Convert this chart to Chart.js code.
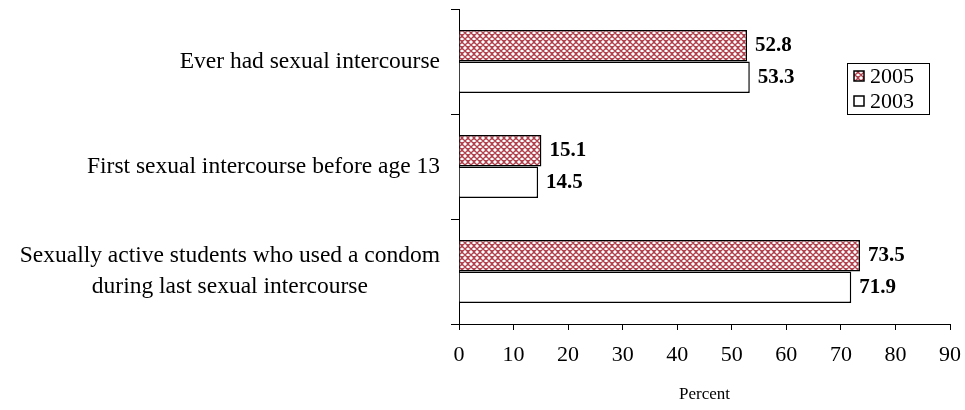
<!DOCTYPE html>
<html>
<head>
<meta charset="utf-8">
<script src="https://cdn.jsdelivr.net/npm/chart.js@4"></script>
<style>
  html, body { margin: 0; padding: 0; background: #fff; }
  #wrap { width: 965px; height: 410px; position: relative; }
</style>
</head>
<body>
<div id="wrap"><canvas id="chart"></canvas></div>
<script>
const categories = [
    ['Ever had sexual intercourse'],
    ['First sexual intercourse before age 13'],
    ['Sexually active students who used a condom', 'during last sexual intercourse']
];
const years = ['2005', '2003'];
const values2005 = [52.8, 15.1, 73.5];
const values2003 = [53.3, 14.5, 71.9];
const xTicks = [0, 10, 20, 30, 40, 50, 60, 70, 80, 90];

const SERIF = '"Liberation Serif", "Times New Roman", serif';

// red cross-hatch used for the 2005 bars
function makeHatch() {
    const c = document.createElement('canvas');
    c.width = 6; c.height = 6;
    const g = c.getContext('2d');
    g.fillStyle = '#ffffff';
    g.fillRect(0, 0, 6, 6);
    g.strokeStyle = '#b0404c';
    g.lineWidth = 1.3;
    g.beginPath();
    g.moveTo(-1, -1); g.lineTo(7, 7);
    g.moveTo(7, -1); g.lineTo(-1, 7);
    g.moveTo(2, -1); g.lineTo(-1, 2);
    g.moveTo(4, -1); g.lineTo(7, 2);
    g.moveTo(-1, 4); g.lineTo(2, 7);
    g.moveTo(7, 4); g.lineTo(4, 7);
    g.stroke();
    return g.createPattern(c, 'repeat');
}
const hatch = makeHatch();

// category names to the left of the axis, each line centred on the block
const categoryLabels = {
    id: 'categoryLabels',
    afterDraw(chart) {
        const ctx = chart.ctx;
        const y = chart.scales.y;
        ctx.save();
        ctx.font = '23.5px ' + SERIF;
        ctx.fillStyle = '#000';
        ctx.textBaseline = 'middle';
        ctx.textAlign = 'center';
        const right = y.right - 19;
        categories.forEach((lines, i) => {
            const cy = y.getPixelForTick(i);
            const maxW = Math.max(...lines.map(l => ctx.measureText(l).width));
            const lh = 31;
            lines.forEach((l, k) => {
                const ly = cy + (k - (lines.length - 1) / 2) * lh;
                ctx.fillText(l, right - maxW / 2, ly);
            });
        });
        ctx.restore();
    }
};

// bold value labels at the end of each bar
const valueLabels = {
    id: 'valueLabels',
    afterDatasetsDraw(chart) {
        const ctx = chart.ctx;
        ctx.save();
        ctx.font = 'bold 21px ' + SERIF;
        ctx.fillStyle = '#000';
        ctx.textBaseline = 'middle';
        ctx.textAlign = 'left';
        chart.data.datasets.forEach((ds, di) => {
            chart.getDatasetMeta(di).data.forEach((bar, i) => {
                ctx.fillText(ds.data[i].toFixed(1), bar.x + 8, bar.y);
            });
        });
        ctx.restore();
    }
};

// boxed legend on the right side
const boxLegend = {
    id: 'boxLegend',
    afterDraw(chart) {
        const ctx = chart.ctx;
        const left = 847, top = 63, w = 82, h = 51;
        ctx.save();
        ctx.strokeStyle = '#000';
        ctx.lineWidth = 1;
        ctx.strokeRect(left + 0.5, top + 0.5, w, h);
        ctx.font = '22px ' + SERIF;
        ctx.textBaseline = 'middle';
        ctx.textAlign = 'left';
        chart.data.datasets.forEach((ds, i) => {
            const cy = top + 13 + i * 25;
            ctx.fillStyle = ds.backgroundColor;
            ctx.fillRect(left + 7, cy - 5, 10, 10);
            ctx.lineWidth = 1.5;
            ctx.strokeRect(left + 7, cy - 5, 10, 10);
            ctx.fillStyle = '#000';
            ctx.fillText(ds.label, left + 23, cy + 1);
        });
        ctx.restore();
    }
};

new Chart(document.getElementById('chart'), {
    type: 'bar',
    data: {
        labels: categories,
        datasets: [
            { label: years[0], data: values2005, backgroundColor: hatch, borderColor: '#000', borderWidth: 1.5 },
            { label: years[1], data: values2003, backgroundColor: '#ffffff', borderColor: '#000', borderWidth: 1.5 }
        ]
    },
    options: {
        indexAxis: 'y',
        responsive: true,
        maintainAspectRatio: false,
        animation: false,
        layout: { padding: { top: 9, right: 4, left: 0, bottom: 0 } },
        categoryPercentage: 0.6,
        barPercentage: 1,
        scales: {
            x: {
                min: 0, max: 90,
                afterBuildTicks: (s) => { s.ticks = xTicks.map(v => ({ value: v })); },
                afterFit: (s) => { s.height = 86; s.paddingRight = 15; },
                border: { color: '#000', width: 1 },
                grid: { drawOnChartArea: false, color: '#000', tickLength: 6 },
                ticks: { color: '#000', padding: 12, maxRotation: 0, font: { family: SERIF, size: 22 } },
                title: { display: true, text: 'Percent', color: '#000', font: { family: SERIF, size: 17 }, padding: { top: 16, bottom: 5 } }
            },
            y: {
                offset: true,
                afterFit: (s) => { s.width = 459; },
                border: { color: '#000', width: 1 },
                grid: { offset: true, drawOnChartArea: false, color: '#000', tickLength: 8 },
                ticks: { display: false }
            }
        },
        plugins: {
            legend: { display: false },
            tooltip: { enabled: false }
        }
    },
    plugins: [categoryLabels, valueLabels, boxLegend]
});
</script>
</body>
</html>
